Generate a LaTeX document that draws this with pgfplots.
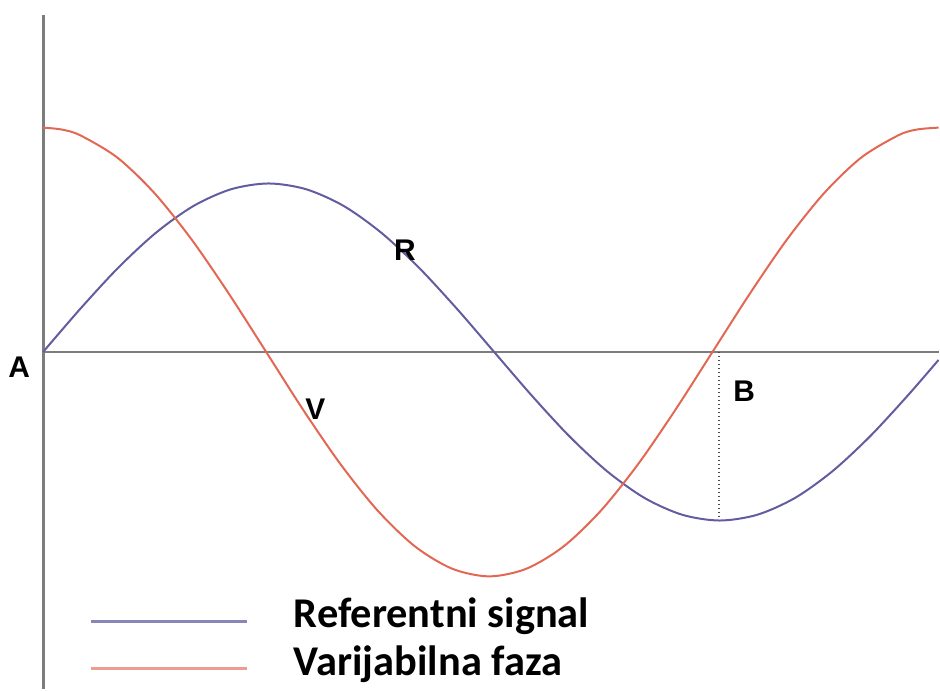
\documentclass[border=0pt]{standalone}
\usepackage{pgfplots}
\pgfplotsset{compat=1.18}
\usepackage{fontspec}
\setmainfont{Carlito}
\newfontfamily\arialb{Liberation Sans}
\definecolor{refc}{RGB}{98,92,160}
\definecolor{varc}{RGB}{226,104,84}
\definecolor{axc}{RGB}{125,125,125}
\begin{document}
\begin{tikzpicture}
\begin{axis}[
    x=0.4pt, y=0.4pt,
    xmin=-42, xmax=898,
    ymin=-338, ymax=353,
    hide axis,
    clip=false
]
% keep the full frame in the bounding box
\path (axis cs:-42,-338) rectangle (axis cs:898,353);
% axis lines
\draw[axc, line width=1.2pt] (axis cs:0,-338) -- (axis cs:0,338);
\draw[axc, line width=1.2pt] (axis cs:0,0) -- (axis cs:898,0);
\draw[black!70, densely dotted, line width=0.6pt] (axis cs:678,0) -- (axis cs:678,-170);

% referentni signal
\addplot[refc, line width=0.8pt, smooth] coordinates {
(0,0) (37.7,43.7) (75.4,84.5) (113.1,119.5) (150.8,146.4) (188.5,163.2)
(226.2,169) (263.9,163.2) (301.6,146.4) (339.3,119.5) (377,84.5) (414.7,43.7)
(452.4,0) (490.1,-43.7) (527.8,-84.5) (565.5,-119.5) (603.2,-146.4) (640.9,-163.2)
(678.6,-169) (716.3,-163.2) (754,-146.4) (791.7,-119.5) (829.4,-84.5) (867.1,-43.7)
(898,-8)};

% varijabilna faza
\addplot[varc, line width=0.8pt, smooth] coordinates {
(0,225) (18.6,223.1) (37.3,217.3) (74.6,194.9) (111.9,159.1) (149.2,112.5) (186.5,58.2)
(223.8,0) (261.0,-58.2) (298.3,-112.5) (335.6,-159.1) (372.9,-194.9) (410.2,-217.3)
(447.5,-225) (484.8,-217.3) (522.1,-194.9) (559.4,-159.1) (596.7,-112.5) (634.0,-58.2)
(671.3,0) (708.6,58.2) (745.8,112.5) (783.1,159.1) (820.4,194.9) (857.7,217.3)
(876.4,223.1) (898,225)};

% legend
\addplot[refc!75!white, line width=1.2pt] coordinates {(48,-270) (205,-270)};
\addplot[varc!65!white, line width=1.2pt] coordinates {(48,-317) (205,-317)};
\node[anchor=base west, inner sep=0pt, font=\fontsize{17}{20}\selectfont\bfseries] at (axis cs:251,-276) {Referentni signal};
\node[anchor=base west, inner sep=0pt, font=\fontsize{17}{20}\selectfont\bfseries] at (axis cs:251,-324) {Varijabilna faza};

% labels
\node[font=\arialb\fontsize{12}{14}\selectfont\bfseries] at (axis cs:-24,-15) {A};
\node[font=\arialb\fontsize{12}{14}\selectfont\bfseries] at (axis cs:363,102) {R};
\node[font=\arialb\fontsize{12}{14}\selectfont\bfseries] at (axis cs:273,-57) {V};
\node[font=\arialb\fontsize{12}{14}\selectfont\bfseries] at (axis cs:703,-39) {B};
\end{axis}
\end{tikzpicture}
\end{document}
